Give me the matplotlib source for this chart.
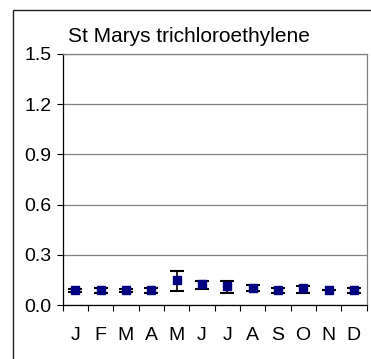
import matplotlib
matplotlib.use("Agg")
import matplotlib.pyplot as plt
from matplotlib.patches import Rectangle
import numpy as np

plt.rcParams['font.family'] = ['Liberation Sans', 'DejaVu Sans']

months = ['J', 'F', 'M', 'A', 'M', 'J', 'J', 'A', 'S', 'O', 'N', 'D']
means = [0.088, 0.088, 0.088, 0.088, 0.150, 0.128, 0.114, 0.104, 0.090, 0.102, 0.090, 0.090]
lows  = [0.080, 0.074, 0.080, 0.074, 0.084, 0.098, 0.072, 0.084, 0.074, 0.074, 0.088, 0.074]
highs = [0.094, 0.100, 0.094, 0.100, 0.204, 0.146, 0.144, 0.122, 0.100, 0.116, 0.092, 0.102]
yticks = [0.0, 0.3, 0.6, 0.9, 1.2, 1.5]
title = 'St Marys trichloroethylene'

fig = plt.figure(figsize=(3.71, 3.59), dpi=100)
ax = fig.add_axes([62.5/371, 1-305/359, (366.5-62.5)/371, (305-54)/359])

x = np.arange(len(months))
m = np.array(means)
yerr = [m - np.array(lows), np.array(highs) - m]
ax.errorbar(x, m, yerr=yerr, fmt='none', ecolor='black', elinewidth=1.2,
            capsize=5, capthick=1.5, zorder=3)
ax.plot(x, m, linestyle='none', marker='s', markersize=5.5, color='#000080', zorder=4)

ax.set_xlim(-0.5, len(months) - 0.5)
ax.set_ylim(0, 1.5)
ax.set_yticks(yticks)
ax.set_yticklabels([f'{v:.1f}' for v in yticks], fontsize=14)
ax.set_xticks(x)
ax.set_xticklabels(months, fontsize=14)
ax.set_xticks(np.arange(-0.5, len(months), 1.0), minor=True)
ax.tick_params(axis='x', which='major', length=0, pad=16)
ax.tick_params(axis='x', which='minor', length=4, direction='out', width=0.8)
ax.tick_params(axis='y', length=4, direction='out', width=0.8, pad=4)
ax.grid(axis='y', color='#808080', linewidth=0.9)
ax.set_axisbelow(True)
for s in ['top', 'right']:
    ax.spines[s].set_color('#808080')
    ax.spines[s].set_linewidth(0.9)
for s in ['left', 'bottom']:
    ax.spines[s].set_color('black')
    ax.spines[s].set_linewidth(0.9)

fig.text(68/371, 1-36/359, title, fontsize=15, va='center', ha='left')

rect = Rectangle((12.7/371, -0.1), 1.2, 1 - 10/359 + 0.1, transform=fig.transFigure,
                 fill=False, edgecolor='#222222', linewidth=1.0, clip_on=False)
fig.patches.append(rect)

fig.savefig('out.png', dpi=100)
